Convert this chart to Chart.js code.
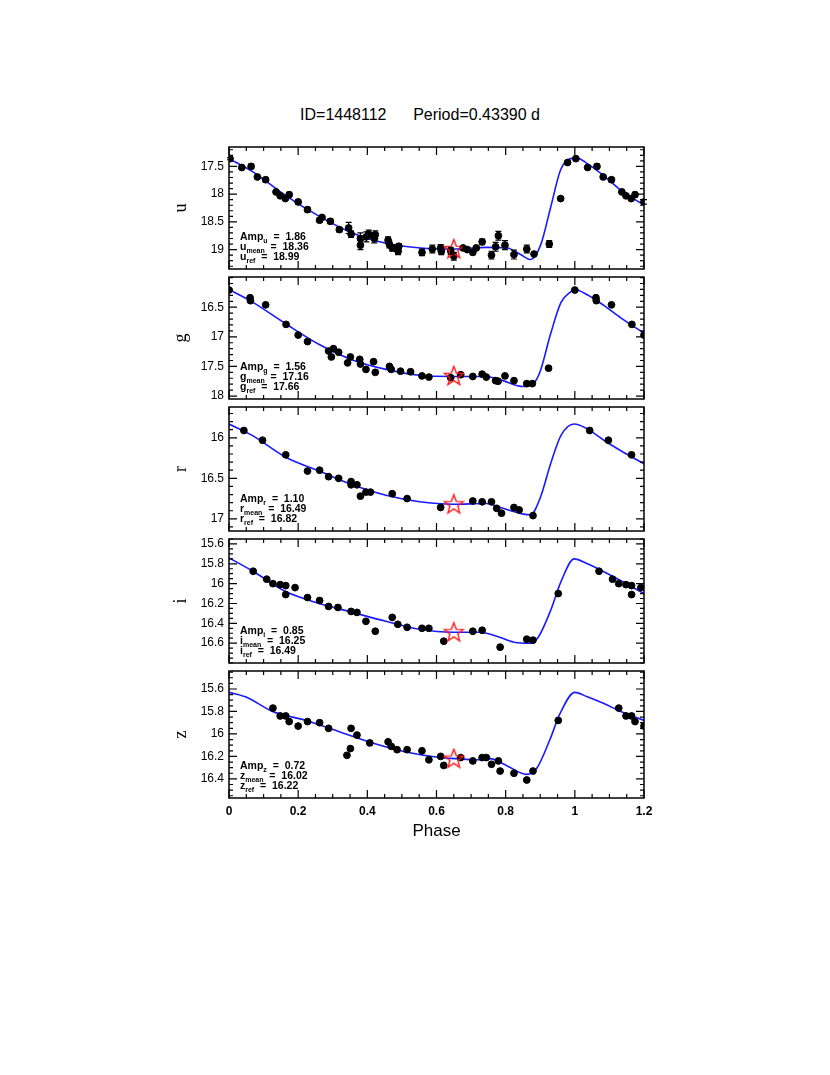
<!DOCTYPE html>
<html>
<head>
<meta charset="utf-8">
<script src="https://cdn.jsdelivr.net/npm/chart.js@4/dist/chart.umd.min.js"></script>
<style>
  body { margin: 0; background: #fff; font-family: "Liberation Sans", Arial, sans-serif; }
  #page { position: relative; width: 830px; height: 1075px; }
  canvas { position: absolute; left: 170px; }
  #title { position: absolute; top: 106px; left: 0; width: 840px; text-align: center; font-size: 16px; white-space: pre; }
  #xtitle { position: absolute; top: 821px; left: 229px; width: 415px; text-align: center; font-size: 17px; }
</style>
</head>
<body>
<div id="page">
  <div id="title">ID=1448112      Period=0.43390 d</div>
  <canvas id="cu" width="490" height="132" style="top:142px"></canvas>
  <canvas id="cg" width="490" height="132" style="top:272px"></canvas>
  <canvas id="cr" width="490" height="134" style="top:402px"></canvas>
  <canvas id="ci" width="490" height="134" style="top:534px"></canvas>
  <canvas id="cz" width="490" height="152" style="top:666px"></canvas>
  <div id="xtitle">Phase</div>
</div>
<script>
// ===============================
// DATA
// ===============================

const xTicks = [0, 0.2, 0.4, 0.6, 0.8, 1, 1.2];

// u band
const uPhase = [0.003,0.037,0.064,0.082,0.106,0.136,0.148,0.174,0.163,0.20,0.227,0.262,0.269,0.293,0.319,0.346,0.353,0.38,0.38,0.397,0.404,0.42,0.423,0.46,0.464,0.472,0.491,0.489,0.558,0.588,0.612,0.614,0.641,0.65,0.677,0.689,0.705,0.715,0.732,0.759,0.771,0.779,0.798,0.824,0.861,0.882,0.926,0.959,0.979];
const uMag = [17.36,17.52,17.50,17.69,17.74,17.96,18.03,18.01,18.08,18.14,18.28,18.47,18.42,18.49,18.64,18.61,18.72,18.80,18.92,18.77,18.72,18.80,18.73,18.83,18.91,18.97,18.94,19.03,19.05,18.99,18.97,19.03,19.02,19.12,18.97,19.00,19.05,18.97,18.86,19.10,18.95,18.75,18.92,19.09,18.99,19.08,18.90,18.08,17.43];
const uErr = [0.02,0.02,0.04,0.02,0.04,0.02,0.02,0.04,0.02,0.04,0.04,0.04,0.03,0.04,0.04,0.1,0.06,0.1,0.08,0.09,0.07,0.08,0.07,0.06,0.06,0.06,0.05,0.06,0.06,0.07,0.06,0.06,0.06,0.07,0.03,0.03,0.04,0.03,0.05,0.07,0.08,0.08,0.08,0.08,0.07,0.03,0.06,0.02,0.02];
const uCurvePhase = [0,0.067,0.167,0.264,0.36,0.457,0.554,0.65,0.746,0.804,0.843,0.872,0.901,0.93,0.959,0.988,1.007,1.036,1.084,1.133,1.2];
const uCurveMag = [17.36,17.59,18.04,18.41,18.71,18.89,18.97,18.99,18.96,18.97,19.09,19.18,18.92,18.24,17.56,17.36,17.35,17.45,17.67,17.93,18.2];

// g band
const gPhase = [0.0,0.061,0.062,0.106,0.165,0.20,0.227,0.288,0.296,0.302,0.317,0.343,0.351,0.378,0.38,0.396,0.418,0.423,0.464,0.469,0.496,0.525,0.558,0.578,0.641,0.67,0.705,0.732,0.744,0.771,0.778,0.798,0.824,0.861,0.877,0.924];
const gMag = [16.21,16.34,16.39,16.46,16.79,16.97,17.08,17.24,17.34,17.20,17.26,17.44,17.34,17.38,17.46,17.55,17.42,17.60,17.50,17.55,17.58,17.59,17.66,17.68,17.69,17.64,17.67,17.63,17.68,17.74,17.75,17.66,17.74,17.79,17.79,17.53];
const gCurvePhase = [0,0.067,0.164,0.261,0.357,0.454,0.551,0.648,0.744,0.792,0.85,0.88,0.9,0.93,0.96,0.988,1.0,1.036,1.084,1.133,1.2];
const gCurveMag = [16.2,16.41,16.78,17.13,17.39,17.55,17.65,17.67,17.67,17.74,17.84,17.79,17.58,16.95,16.42,16.24,16.2,16.29,16.47,16.68,16.94];

// r band
const rPhase = [0.043,0.097,0.164,0.227,0.262,0.288,0.317,0.353,0.353,0.37,0.38,0.396,0.409,0.472,0.515,0.612,0.705,0.732,0.759,0.774,0.788,0.824,0.839,0.879];
const rMag = [15.91,16.03,16.21,16.41,16.40,16.48,16.50,16.54,16.58,16.58,16.72,16.67,16.67,16.69,16.75,16.86,16.78,16.79,16.79,16.87,16.93,16.86,16.89,16.96];
const rCurvePhase = [0,0.067,0.164,0.261,0.357,0.454,0.551,0.648,0.744,0.792,0.872,0.9,0.93,0.96,0.998,1.036,1.084,1.133,1.2];
const rCurveMag = [15.83,15.97,16.24,16.41,16.58,16.71,16.79,16.82,16.81,16.87,16.95,16.74,16.32,15.97,15.83,15.89,16.03,16.16,16.32];

// i band
const iPhase = [0.07,0.109,0.127,0.148,0.164,0.164,0.191,0.227,0.262,0.288,0.315,0.353,0.37,0.396,0.423,0.472,0.488,0.515,0.558,0.578,0.621,0.705,0.732,0.784,0.861,0.879,0.952];
const iMag = [15.875,15.955,16.0,16.01,16.02,16.11,16.04,16.14,16.17,16.23,16.24,16.28,16.29,16.38,16.48,16.34,16.41,16.44,16.45,16.45,16.58,16.48,16.47,16.64,16.56,16.57,16.10];
const iCurvePhase = [0,0.067,0.164,0.261,0.357,0.454,0.551,0.648,0.725,0.774,0.824,0.872,0.896,0.93,0.96,0.998,1.036,1.084,1.133,1.2];
const iCurveMag = [15.74,15.87,16.08,16.2,16.29,16.38,16.46,16.49,16.49,16.53,16.59,16.6,16.53,16.27,15.98,15.75,15.80,15.88,15.97,16.10];

// z band
const zPhase = [0.127,0.148,0.164,0.174,0.20,0.227,0.262,0.288,0.341,0.351,0.353,0.37,0.407,0.46,0.469,0.486,0.515,0.558,0.578,0.612,0.621,0.67,0.705,0.732,0.744,0.759,0.779,0.784,0.824,0.861,0.879,0.952];
const zMag = [15.77,15.84,15.84,15.89,15.93,15.89,15.90,15.95,16.19,16.13,15.95,16.01,16.08,16.07,16.11,16.14,16.14,16.15,16.23,16.20,16.28,16.21,16.24,16.21,16.21,16.27,16.24,16.33,16.35,16.41,16.33,15.88];
const zCurvePhase = [0,0.048,0.126,0.222,0.319,0.415,0.512,0.609,0.657,0.715,0.754,0.802,0.86,0.889,0.928,0.957,1.0,1.036,1.084,1.133,1.2];
const zCurveMag = [15.63,15.67,15.80,15.88,15.98,16.08,16.16,16.21,16.22,16.23,16.22,16.28,16.36,16.31,16.05,15.82,15.63,15.67,15.73,15.80,15.88];

// reference star (phase, mag)
const refPhase = 0.65;
const refMag = { u: 18.99, g: 17.66, r: 16.82, i: 16.49, z: 16.22 };

// y ranges and tick labels
const uRange = [17.15, 19.35], uTicks = [17.5, 18, 18.5, 19];
const gRange = [15.99, 18.05], gTicks = [16.5, 17, 17.5, 18];
const rRange = [15.62, 17.15], rTicks = [16, 16.5, 17];
const iRange = [15.55, 16.8], iTicks = [15.6, 15.8, 16, 16.2, 16.4, 16.6];
const zRange = [15.44, 16.57], zTicks = [15.6, 15.8, 16, 16.2, 16.4];

const uInfo = ["1.86", "18.36", "18.99"];
const gInfo = ["1.56", "17.16", "17.66"];
const rInfo = ["1.10", "16.49", "16.82"];
const iInfo = ["0.85", "16.25", "16.49"];
const zInfo = ["0.72", "16.02", "16.22"];

// ===============================
// HELPERS
// ===============================

// points are repeated one cycle later while they stay on the plot
function foldPoints(phase, mag, err) {
    const pts = [];
    phase.forEach((p, k) => {
        pts.push({ x: p, y: mag[k], e: err ? err[k] : 0 });
        if (p + 1 <= 1.2) pts.push({ x: p + 1, y: mag[k], e: err ? err[k] : 0 });
    });
    return pts;
}

function starImage() {
    const c = document.createElement("canvas");
    c.width = 22; c.height = 22;
    const ctx = c.getContext("2d");
    ctx.beginPath();
    for (let k = 0; k < 10; k++) {
        const r = k % 2 === 0 ? 10 : 4.2;
        const a = -Math.PI / 2 + k * Math.PI / 5;
        const px = 11 + r * Math.cos(a), py = 11.5 + r * Math.sin(a);
        k === 0 ? ctx.moveTo(px, py) : ctx.lineTo(px, py);
    }
    ctx.closePath();
    ctx.strokeStyle = "#ff1a1a";
    ctx.lineWidth = 1.4;
    ctx.stroke();
    return c;
}
const star = starImage();

// frame, inward ticks, error bars and the text block
const framePlugin = {
    id: "frame",
    afterDatasetsDraw(chart, args, opts) {
        const ctx = chart.ctx;
        const a = chart.chartArea;
        const xs = chart.scales.x, ys = chart.scales.y;
        ctx.save();

        // error bars
        ctx.strokeStyle = "#000";
        ctx.lineWidth = 1.2;
        chart.data.datasets[1].data.forEach(pt => {
            if (!pt.e) return;
            const px = xs.getPixelForValue(pt.x);
            const y1 = ys.getPixelForValue(pt.y - pt.e), y2 = ys.getPixelForValue(pt.y + pt.e);
            ctx.beginPath();
            ctx.moveTo(px, y1); ctx.lineTo(px, y2);
            ctx.moveTo(px - 3, y1); ctx.lineTo(px + 3, y1);
            ctx.moveTo(px - 3, y2); ctx.lineTo(px + 3, y2);
            ctx.stroke();
        });

        // frame
        ctx.lineWidth = 1.5;
        ctx.strokeRect(a.left, a.top, a.right - a.left, a.bottom - a.top);

        // x ticks
        ctx.lineWidth = 1.2;
        for (let k = 0; k <= 24; k++) {
            const v = k * 0.05;
            const px = xs.getPixelForValue(v);
            const len = k % 4 === 0 ? 8 : 4;
            ctx.beginPath();
            ctx.moveTo(px, a.top); ctx.lineTo(px, a.top + len);
            ctx.moveTo(px, a.bottom); ctx.lineTo(px, a.bottom - len);
            ctx.stroke();
        }
        // y ticks
        const step = opts.minor;
        const start = Math.ceil(ys.min / step - 1e-6);
        for (let k = start; k * step <= ys.max + 1e-6; k++) {
            const v = k * step;
            const py = ys.getPixelForValue(v);
            const major = opts.ticks.some(t => Math.abs(t - v) < 1e-6);
            const len = major ? 8 : 4;
            ctx.beginPath();
            ctx.moveTo(a.left, py); ctx.lineTo(a.left + len, py);
            ctx.moveTo(a.right, py); ctx.lineTo(a.right - len, py);
            ctx.stroke();
        }

        // text block
        ctx.fillStyle = "#000";
        ctx.textBaseline = "alphabetic";
        const rows = [["Amp", opts.band, "  =  " + opts.info[0]],
                      [opts.band, "mean", "  =  " + opts.info[1]],
                      [opts.band, "ref", "  =  " + opts.info[2]]];
        rows.forEach((row, k) => {
            let x = a.left + 11;
            const y = a.bottom - 29 + k * 10;
            ctx.font = "bold 10.5px 'Liberation Sans', Arial";
            ctx.fillText(row[0], x, y);
            x += ctx.measureText(row[0]).width;
            ctx.font = "bold 7px 'Liberation Sans', Arial";
            ctx.fillText(row[1], x, y + 2.5);
            x += ctx.measureText(row[1]).width;
            ctx.font = "bold 10.5px 'Liberation Sans', Arial";
            ctx.fillText(row[2], x, y);
        });
        ctx.restore();
    }
};

function makePanel(id, band, range, ticks, minor, info, phase, mag, err, cPhase, cMag, bottom) {
    const curve = cPhase.map((p, k) => ({ x: p, y: cMag[k] }));
    return new Chart(document.getElementById(id), {
        type: "scatter",
        data: {
            datasets: [
                {
                    type: "line",
                    data: curve,
                    borderColor: "#1a1aff",
                    borderWidth: 1.6,
                    pointRadius: 0,
                    cubicInterpolationMode: "monotone",
                    fill: false,
                    order: 3
                },
                {
                    data: foldPoints(phase, mag, err),
                    backgroundColor: "#000",
                    borderColor: "#000",
                    pointRadius: 3.4,
                    order: 2
                },
                {
                    data: [{ x: refPhase, y: refMag[band] }],
                    pointStyle: star,
                    order: 1
                }
            ]
        },
        options: {
            responsive: false,
            animation: false,
            layout: { padding: { top: 1, bottom: bottom ? 0 : 1, right: 16, left: 0 } },
            plugins: {
                legend: { display: false },
                tooltip: { enabled: false },
                frame: { band: band, info: info, ticks: ticks, minor: minor }
            },
            scales: {
                x: {
                    type: "linear",
                    min: 0, max: 1.2,
                    display: bottom,
                    grid: { display: false, drawTicks: false },
                    border: { display: false },
                    afterBuildTicks: s => { s.ticks = xTicks.map(v => ({ value: v })); },
                    afterFit: s => { s.height = bottom ? 20 : 0; s.paddingLeft = 0; s.paddingRight = 0; },
                    ticks: {
                        color: "#000",
                        padding: 6,
                        maxRotation: 0,
                        font: { size: 12, family: "'Liberation Sans', Arial", weight: "bold" },
                        callback: v => String(Math.round(v * 10) / 10)
                    }
                },
                y: {
                    reverse: true,
                    min: range[0], max: range[1],
                    grid: { display: false, drawTicks: false },
                    border: { display: false },
                    afterBuildTicks: s => { s.ticks = ticks.map(v => ({ value: v })); },
                    afterFit: s => { s.width = 59; s.paddingTop = 0; s.paddingBottom = 0; },
                    ticks: {
                        color: "#000",
                        padding: 5,
                        font: { size: 12, family: "'Liberation Sans', Arial" },
                        callback: v => String(v)
                    },
                    title: {
                        display: true,
                        text: band,
                        color: "#000",
                        padding: { top: 0, bottom: 2 },
                        font: { size: 18, family: "'Liberation Serif', 'Times New Roman', serif" }
                    }
                }
            }
        },
        plugins: [framePlugin]
    });
}

document.addEventListener("DOMContentLoaded", () => {
    makePanel("cu", "u", uRange, uTicks, 0.1, uInfo, uPhase, uMag, uErr, uCurvePhase, uCurveMag, false);
    makePanel("cg", "g", gRange, gTicks, 0.1, gInfo, gPhase, gMag, null, gCurvePhase, gCurveMag, false);
    makePanel("cr", "r", rRange, rTicks, 0.1, rInfo, rPhase, rMag, null, rCurvePhase, rCurveMag, false);
    makePanel("ci", "i", iRange, iTicks, 0.05, iInfo, iPhase, iMag, null, iCurvePhase, iCurveMag, false);
    makePanel("cz", "z", zRange, zTicks, 0.05, zInfo, zPhase, zMag, null, zCurvePhase, zCurveMag, true);
});
</script>
</body>
</html>
